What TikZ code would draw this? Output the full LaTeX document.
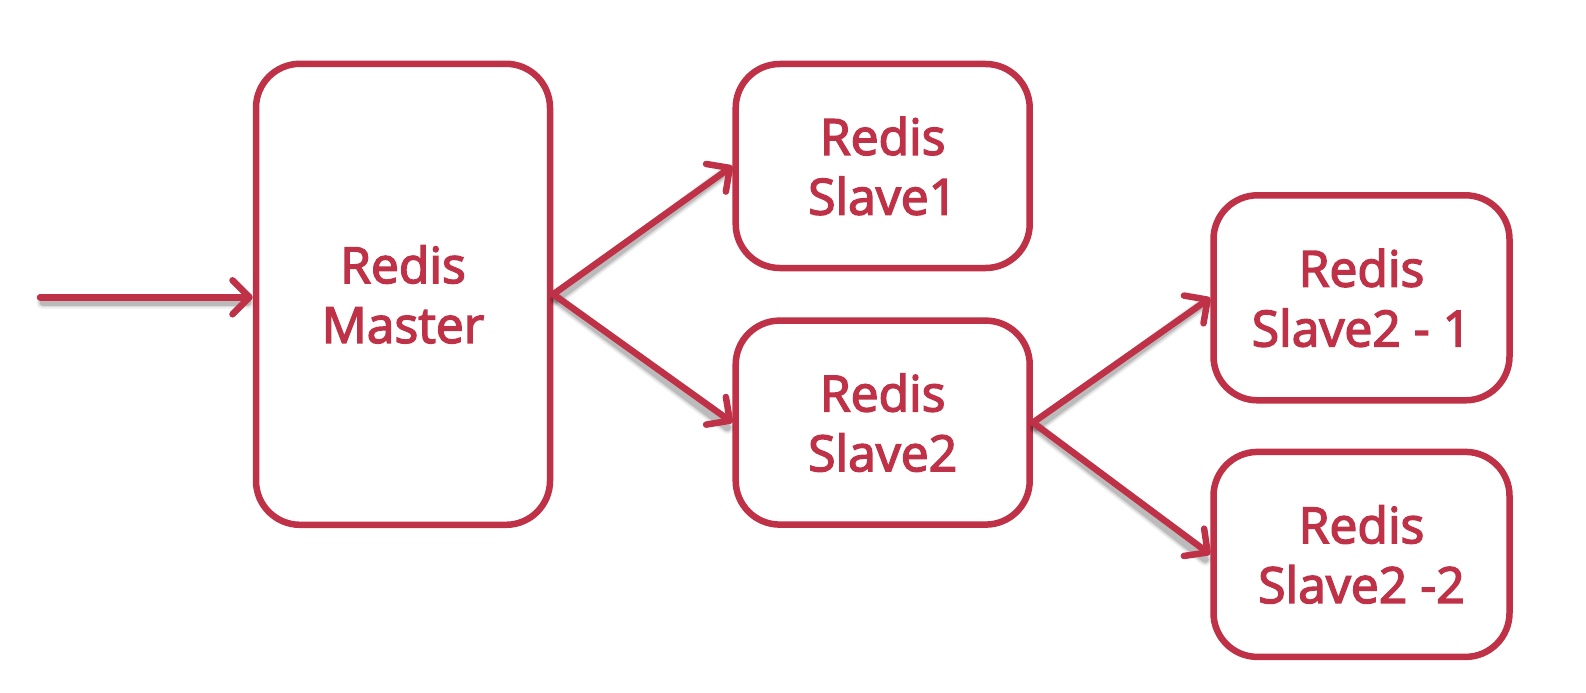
\documentclass[tikz,border=0pt]{standalone}
\usepackage{fontspec}
\newfontfamily\labfont{Open Sans}[FakeBold=3]
\usetikzlibrary{arrows.meta}
\definecolor{redisred}{HTML}{BE3146}
\tikzset{
  box/.style={draw=redisred, line width=6.5bp, rounded corners=44bp, fill=white,
    inner sep=0pt, font=\labfont\fontsize{50}{60}\selectfont, text=redisred, align=center},
  conn/.style={draw=redisred, line width=6.5bp, line cap=round,
    -{Straight Barb[length=17bp,width=34bp,line cap=round,line join=round]}},
  shade/.style={draw=black, line cap=round}
}
\begin{document}
\begin{tikzpicture}[x=1bp,y=-1bp]
\useasboundingbox[fill=white] (0,0) rectangle (1586,693);
% nodes
\node[box, minimum width=294bp, minimum height=461bp] (master) at (403,294.3) {Redis\\Master};
\node[box, minimum width=294bp, minimum height=204bp] (s1) at (882.7,166) {Redis\\Slave1};
\node[box, minimum width=294bp, minimum height=204bp] (s2) at (882.7,422.6) {Redis\\Slave2};
\node[box, minimum width=296bp, minimum height=205bp] (s21) at (1361.5,297.8) {Redis\\Slave2 - 1};
\node[box, minimum width=296bp, minimum height=205bp] (s22) at (1361.5,554.4) {Redis\\Slave2 -2};
\coordinate (in) at (40,297.3);
% shadows
\foreach \w/\o in {13/0.06,10/0.09,7/0.14}{
\begin{scope}[transform canvas={shift={(3bp,-5bp)}}]
\draw[shade, line width=\w bp, opacity=\o] (in) -- ([xshift=-8bp]master.west |- in);
\draw[shade, line width=\w bp, opacity=\o] (master.east) -- ([xshift=-8bp]s1.west);
\draw[shade, line width=\w bp, opacity=\o] (master.east) -- ([xshift=-8bp]s2.west);
\draw[shade, line width=\w bp, opacity=\o] (s2.east) -- ([xshift=-8bp]s21.west);
\draw[shade, line width=\w bp, opacity=\o] (s2.east) -- ([xshift=-8bp]s22.west);
\end{scope}}
% connectors
\draw[conn] (in) -- (master.west |- in);
\draw[conn] (master.east) -- (s1.west);
\draw[conn] (master.east) -- (s2.west);
\draw[conn] (s2.east) -- (s21.west);
\draw[conn] (s2.east) -- (s22.west);
\end{tikzpicture}
\end{document}
